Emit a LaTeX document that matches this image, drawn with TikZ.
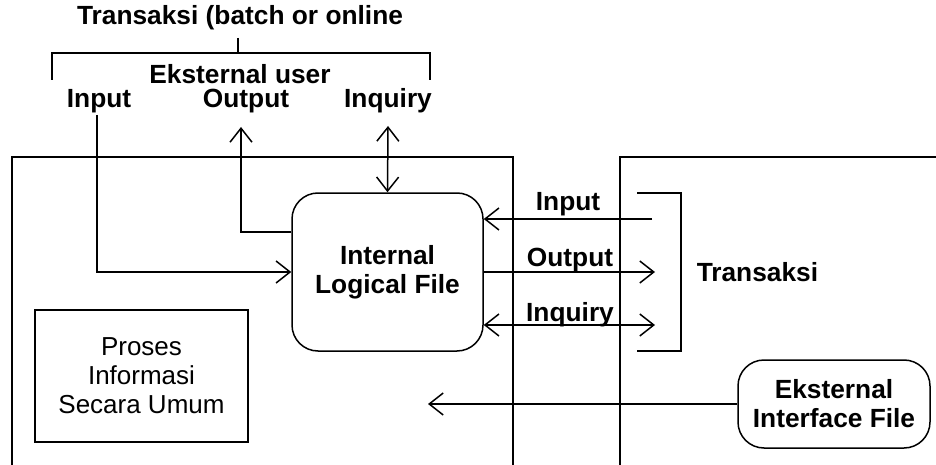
\documentclass[tikz,border=0pt]{standalone}
\usepackage{fontspec}
\setmainfont{Liberation Sans}
\usetikzlibrary{arrows.meta, positioning}

\tikzset{
    lbl/.style={font=\bfseries\fontsize{26.3}{29}\selectfont, inner sep=0pt},
    filebox/.style={draw, rounded corners=26pt, align=center, inner sep=0pt},
}

\begin{document}
\begin{tikzpicture}[x=1pt, y=-1pt, line width=1.5pt,
    >={Straight Barb[length=14pt, width=22pt, line width=1.5pt]}]
\useasboundingbox (0,0) rectangle (936,465);
% two areas
\draw (12,465)--(12,157)--(513,157)--(513,465);
\draw (620,465)--(620,157)--(936,157);
% top: external user
\node[lbl] (trTop) at (240,18) {Transaksi (batch or online};
\draw (52,80)--(52,53)--(430,53)--(430,80);
\draw (238,38)--(238,53);
\node[lbl] (extUser) at (240,74) {Eksternal user};
\node[lbl] (inU) at (99,101) {Input};
\node[lbl] (outU) at (246,101) {Output};
\node[lbl] (inqU) at (388,101) {Inquiry};
% files
\node[filebox, lbl, minimum width=191pt, minimum height=158pt] (ilf) at (387.5,272)
    {Internal\\Logical File};
\node[filebox, lbl, minimum width=192pt, minimum height=88pt] (eif) at (834,404)
    {Eksternal\\Interface File};
\node[draw, align=center, inner sep=0pt, minimum width=213pt, minimum height=132pt,
    font=\fontsize{26}{29}\selectfont] (proses) at (141.5,376)
    {Proses\\Informasi\\Secara Umum};
% user flows
\coordinate (inSrc) at (97,115);
\coordinate (outEnd) at (241,127);
\coordinate (outY) at (0,232);
\coordinate (inqEnd) at (388,126);
\draw[->] (inSrc) |- (ilf.west);
\draw[->] (ilf.west |- outY) -| (outEnd);
\draw[<->] (inqEnd) -- (ilf.north);
% transaksi on the right
\coordinate (trIn) at (652,219);
\coordinate (trOut) at (655,272);
\coordinate (trInq) at (655,325);
\draw[->] (trIn) -- (ilf.east |- trIn);
\draw[->] (ilf.east) -- (trOut);
\draw[<->] (ilf.east |- trInq) -- (trInq);
\node[lbl] (inR) at (568,204) {Input};
\node[lbl] (outR) at (570,260) {Output};
\node[lbl] (inqR) at (570,315) {Inquiry};
\draw (637,193)--(681,193)--(681,351)--(637,351);
\node[lbl, anchor=west] (trR) at (696,272) {Transaksi};
% external interface file
\coordinate (eifEnd) at (428,404);
\draw[->] (eif.west) -- (eifEnd);
\end{tikzpicture}
\end{document}
